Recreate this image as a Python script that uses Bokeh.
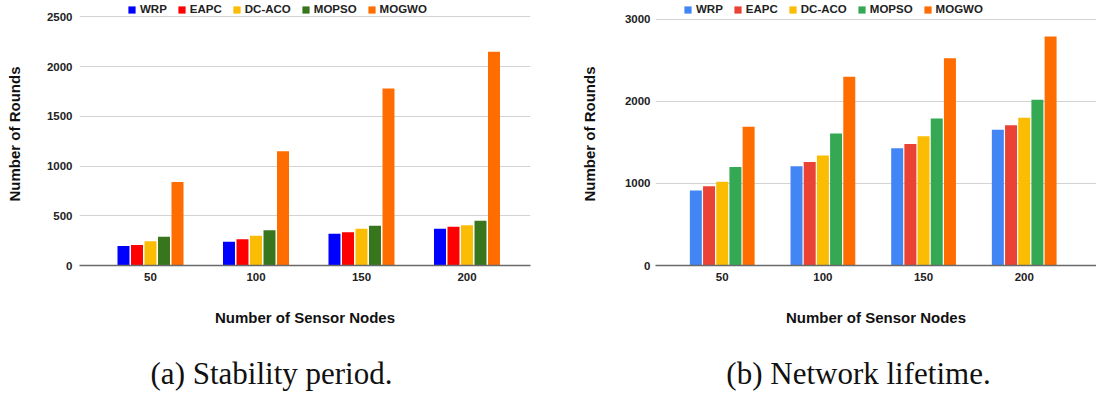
from bokeh.plotting import figure
from bokeh.models import (Range1d, FixedTicker, Legend, LegendItem, ColumnDataSource)
from bokeh.layouts import row, column
from bokeh.embed import file_html
from bokeh.resources import INLINE
from bokeh.core.properties import value

# ---------------- data ----------------
nodes = ["50", "100", "150", "200"]
series = ["WRP", "EAPC", "DC-ACO", "MOPSO", "MOGWO"]

# (a) Stability period
stab_wrp = [195, 240, 320, 370]
stab_eapc = [205, 265, 335, 390]
stab_dcaco = [245, 300, 370, 405]
stab_mopso = [290, 355, 400, 450]
stab_mogwo = [840, 1150, 1780, 2150]

# (b) Network lifetime
life_wrp = [915, 1210, 1430, 1655]
life_eapc = [965, 1260, 1480, 1710]
life_dcaco = [1020, 1340, 1575, 1800]
life_mopso = [1200, 1610, 1790, 2020]
life_mogwo = [1690, 2300, 2525, 2790]

ticks_a = [0, 500, 1000, 1500, 2000, 2500]
ticks_b = [0, 1000, 2000, 3000]

colors_a = ["#0000ff", "#ff0000", "#fbbc04", "#38761d", "#ff6d01"]
colors_b = ["#4285f4", "#ea4335", "#fbbc04", "#34a853", "#ff6d01"]

captions = ["(a) Stability period.", "(b) Network lifetime."]
x_title = "Number of Sensor Nodes"
y_title = "Number of Rounds"

SANS = "Liberation Sans"
LAB = "11.5px"


def make_panel(data, colors, ticks, width, height, mb_left, mb_right, mb_bottom,
               x_start, x_end, y_end, pitch, bw, y_std, y_lab_std, leg_x):
    p = figure(width=width, height=height, output_backend="svg", toolbar_location=None,
               x_range=Range1d(x_start, x_end), y_range=Range1d(0, y_end),
               min_border_left=mb_left, min_border_right=mb_right,
               min_border_top=2, min_border_bottom=mb_bottom)
    p.outline_line_color = None
    p.background_fill_color = "white"
    p.border_fill_color = "white"
    xs = list(range(1, len(nodes) + 1))
    items = []
    for i, (name, vals) in enumerate(zip(series, data)):
        src = ColumnDataSource(dict(x=[x + (i - 2) * pitch for x in xs], top=vals))
        r = p.vbar(x="x", top="top", width=bw, source=src, fill_color=colors[i],
                   line_color=None)
        items.append(LegendItem(label=name, renderers=[r]))
    # grid
    p.xgrid.visible = False
    p.ygrid.grid_line_color = "#d3d3d3"
    p.ygrid.grid_line_width = 1
    p.ygrid.ticker = FixedTicker(ticks=ticks)
    # y axis
    ya = p.yaxis[0]
    ya.ticker = FixedTicker(ticks=ticks)
    ya.axis_line_color = None
    ya.major_tick_line_color = None
    ya.minor_tick_line_color = None
    ya.major_tick_out = 0
    ya.major_tick_in = 0
    ya.major_label_standoff = y_std
    ya.major_label_text_font = SANS
    ya.major_label_text_font_style = "bold"
    ya.major_label_text_font_size = LAB
    ya.major_label_text_color = "#222222"
    ya.axis_label = y_title
    ya.axis_label_text_font = SANS
    ya.axis_label_text_font_style = "bold"
    ya.axis_label_text_font_size = "15px"
    ya.axis_label_text_color = "#111111"
    ya.axis_label_standoff = y_lab_std
    # x axis
    xa = p.xaxis[0]
    xa.ticker = FixedTicker(ticks=xs)
    xa.major_label_overrides = {x: n for x, n in zip(xs, nodes)}
    xa.axis_line_color = "#6a6a6a"
    xa.axis_line_width = 1.5
    xa.major_tick_line_color = None
    xa.minor_tick_line_color = None
    xa.major_tick_out = 0
    xa.major_tick_in = 0
    xa.major_label_standoff = 7
    xa.major_label_text_font = SANS
    xa.major_label_text_font_style = "bold"
    xa.major_label_text_font_size = LAB
    xa.major_label_text_color = "#222222"
    xa.axis_label = x_title
    xa.axis_label_text_font = SANS
    xa.axis_label_text_font_style = "bold"
    xa.axis_label_text_font_size = "15px"
    xa.axis_label_text_color = "#111111"
    xa.axis_label_standoff = 25
    # legend
    leg = Legend(items=items, orientation="horizontal", location=(leg_x, 249),
                 glyph_width=9, glyph_height=9, label_standoff=4, spacing=10,
                 padding=0, margin=0, label_height=14,
                 label_text_font=SANS, label_text_font_style="bold",
                 label_text_font_size=LAB, label_text_color="#222222",
                 border_line_color=None, background_fill_alpha=0)
    p.add_layout(leg)
    return p


pa = make_panel([stab_wrp, stab_eapc, stab_dcaco, stab_mopso, stab_mogwo], colors_a, ticks_a,
                width=560, height=335, mb_left=79, mb_right=30, mb_bottom=69,
                x_start=0.327, x_end=4.602, y_end=2645,
                pitch=0.128, bw=0.1137, y_std=7, y_lab_std=21, leg_x=48)
pb = make_panel([life_wrp, life_eapc, life_dcaco, life_mopso, life_mogwo], colors_b, ticks_b,
                width=536, height=335, mb_left=95, mb_right=0, mb_bottom=70,
                x_start=0.337, x_end=4.718, y_end=3205,
                pitch=0.131, bw=0.1192, y_std=5, y_lab_std=24, leg_x=28)

cap = figure(width=1096, height=59, output_backend="svg", toolbar_location=None,
             x_range=Range1d(0, 1096), y_range=Range1d(0, 59),
             min_border=0)
cap.axis.visible = False
cap.grid.visible = False
cap.outline_line_color = None
cap.text(x=[271, 858], y=[21, 21], text=captions, text_font=value("Liberation Serif"),
         text_font_size="31px", text_align="center", text_baseline="middle",
         text_color="#111111")

layout = column(row(pa, pb), cap)

open("out.html", "w").write(file_html(layout, INLINE))
